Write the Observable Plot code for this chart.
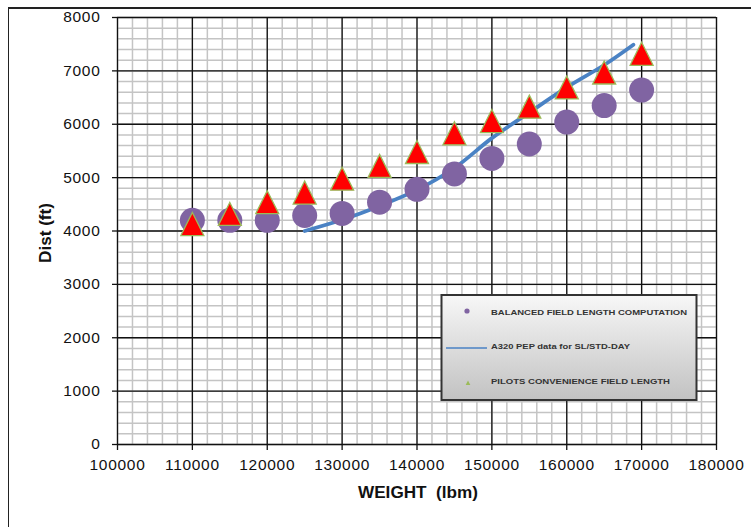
<!DOCTYPE html>
<html>
<head>
<meta charset="utf-8">
<script src="https://cdn.jsdelivr.net/npm/d3@7"></script>
<script src="https://cdn.jsdelivr.net/npm/@observablehq/plot@0.6"></script>
<style>
  html, body { margin: 0; padding: 0; overflow: hidden; background: #fff; width: 751px; height: 527px; }
  #frame { position: absolute; left: 8px; top: 7px; width: 820px; height: 620px; border-left: 1.5px solid #222; border-top: 2px solid #222; }
  #chart { position: absolute; left: 0; top: 0; }
  .tickl text { letter-spacing: 0.7px; }
</style>
</head>
<body>
<div id="frame"></div>
<div id="chart"></div>
<script>
// ---- data ----
const weights = [110000, 115000, 120000, 125000, 130000, 135000, 140000, 145000, 150000, 155000, 160000, 165000, 170000];
const balancedField = [4200, 4200, 4200, 4290, 4330, 4540, 4780, 5070, 5360, 5630, 6040, 6350, 6640];
const pilotsField = [4130, 4320, 4540, 4720, 4980, 5220, 5480, 5830, 6060, 6330, 6690, 6970, 7320];
const pepWeights = [125000, 130000, 135000, 140000, 145000, 150000, 155000, 160000, 165000, 168900];
const pepDist = [4000, 4210, 4470, 4770, 5180, 5740, 6220, 6690, 7110, 7490];
const xTicks = [100000, 110000, 120000, 130000, 140000, 150000, 160000, 170000, 180000];
const yTicks = [0, 1000, 2000, 3000, 4000, 5000, 6000, 7000, 8000];
const seriesNames = ["BALANCED FIELD LENGTH COMPUTATION", "A320 PEP data for SL/STD-DAY", "PILOTS CONVENIENCE FIELD LENGTH"];

const bflData = weights.map((w, i) => ({w, d: balancedField[i]}));
const pilotData = weights.map((w, i) => ({w, d: pilotsField[i]}));
const pepData = pepWeights.map((w, i) => ({w, d: pepDist[i]}));
const xMinor = d3.range(100000, 180001, 2000);
const yMinor = d3.range(0, 8001, 200);

const tri = {
  draw(ctx, size) {
    const r = Math.sqrt(size / Math.PI);
    ctx.moveTo(0, -r);
    ctx.lineTo(r, r);
    ctx.lineTo(-r, r);
    ctx.closePath();
  }
};

const svg = Plot.plot({
  width: 751,
  height: 527,
  marginLeft: 117,
  marginRight: 35,
  marginTop: 17,
  marginBottom: 83,
  style: {fontFamily: "'Liberation Sans', Arial, sans-serif", fontSize: "15.5px", background: "transparent", color: "#111"},
  x: {domain: [100000, 180000], ticks: xTicks, tickFormat: d => String(d), label: null},
  y: {domain: [0, 8000], ticks: yTicks, tickFormat: d => String(d), label: null},
  marks: [
    Plot.ruleX(xMinor, {stroke: "#c4c4c4", strokeWidth: 1.5}),
    Plot.ruleY(yMinor, {stroke: "#c4c4c4", strokeWidth: 1.5}),
    Plot.ruleX(xTicks, {stroke: "#111", strokeWidth: 1.3}),
    Plot.ruleY(yTicks, {stroke: "#111", strokeWidth: 1.3}),
    Plot.axisX({ticks: xTicks, tickSize: 6, tickPadding: 8, tickFormat: d => String(d), stroke: "#111", strokeWidth: 1.3, fill: "#111", label: null, className: "tickl"}),
    Plot.axisY({ticks: yTicks, tickSize: 5, tickPadding: 12, tickFormat: d => String(d), stroke: "#111", strokeWidth: 1.3, fill: "#111", label: null, className: "tickl"}),
    Plot.line(pepData, {x: "w", y: "d", stroke: "#4A82C4", strokeWidth: 3.8, curve: "catmull-rom", strokeLinecap: "round"}),
    Plot.dot(bflData, {x: "w", y: "d", r: 12.5, fill: "#8064A2", stroke: "none"}),
    Plot.dot(pilotData, {x: "w", y: "d", r: 11.5, symbol: tri, fill: "#FF0000", stroke: "#9BBB59", strokeWidth: 1.3})
  ]
});

const s = d3.select(svg);
// axis titles
s.append("text")
  .attr("x", 418).attr("y", 498)
  .attr("text-anchor", "middle")
  .attr("textLength", 120).attr("lengthAdjust", "spacingAndGlyphs")
  .style("font-weight", "bold").style("font-size", "16px").style("white-space", "pre")
  .attr("fill", "#111")
  .text("WEIGHT  (lbm)");
s.append("text")
  .attr("transform", "translate(51,233) rotate(-90)")
  .attr("text-anchor", "middle")
  .attr("textLength", 60).attr("lengthAdjust", "spacingAndGlyphs")
  .style("font-weight", "bold").style("font-size", "16px")
  .attr("fill", "#111")
  .text("Dist (ft)");

// legend
const defs = s.append("defs");
const grad = defs.append("linearGradient").attr("id", "lg").attr("x1", 0).attr("y1", 0).attr("x2", 0).attr("y2", 1);
grad.append("stop").attr("offset", "0%").attr("stop-color", "#f7f7f7");
grad.append("stop").attr("offset", "100%").attr("stop-color", "#c2c2c2");
const lg = s.append("g").attr("text-anchor", "start");
lg.append("rect").attr("x", 441.5).attr("y", 295).attr("width", 255).attr("height", 105)
  .attr("fill", "url(#lg)").attr("stroke", "#333").attr("stroke-width", 2);
lg.append("circle").attr("cx", 467).attr("cy", 311).attr("r", 2.6).attr("fill", "#8064A2");
lg.append("line").attr("x1", 446).attr("x2", 487).attr("y1", 348).attr("y2", 348).attr("stroke", "#4A82C4").attr("stroke-width", 1.3);
lg.append("path").attr("d", "M468,380.5 L470.3,385 L465.7,385 Z").attr("fill", "#9BBB59");
const legendY = [312.5, 347, 382];
const legendW = [196, 139, 179];
seriesNames.forEach((t, i) => {
  lg.append("text")
    .attr("x", 491).attr("y", legendY[i])
    .attr("text-anchor", "start")
    .attr("dominant-baseline", "middle")
    .attr("textLength", legendW[i]).attr("lengthAdjust", "spacingAndGlyphs")
    .style("font-size", "8px").style("font-weight", "bold")
    .attr("fill", "#333")
    .text(t);
});

document.getElementById("chart").appendChild(svg);
</script>
</body>
</html>
